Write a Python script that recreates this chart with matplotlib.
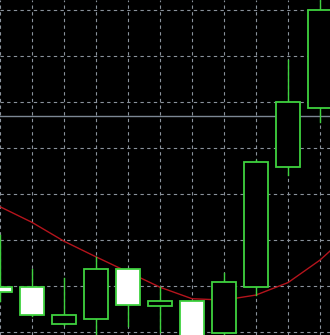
import matplotlib
matplotlib.use("Agg")
import matplotlib.pyplot as plt
from matplotlib.patches import Rectangle

# OHLC per bar (bar index 0..10, left to right)
opens  = [1.08598, 1.08598, 1.08517, 1.08528, 1.08637, 1.08558, 1.08567, 1.08498, 1.08598, 1.08859, 1.08988]
highs  = [1.08712, 1.08638, 1.08619, 1.08664, 1.08639, 1.08599, 1.08569, 1.08628, 1.08875, 1.09093, 1.09255]
lows   = [1.08568, 1.08536, 1.08516, 1.08483, 1.08514, 1.08501, 1.08466, 1.08490, 1.08581, 1.08842, 1.08958]
closes = [1.08588, 1.08537, 1.08537, 1.08637, 1.08559, 1.08567, 1.08472, 1.08609, 1.08870, 1.09000, 1.09200]

# moving average, one bar either side of the visible range
ma_x = [-1, 0, 1, 2, 3, 4, 5, 6, 7, 8, 9, 10, 11]
ma_values = [1.08807, 1.08773, 1.08739, 1.08698, 1.08664, 1.08631, 1.08598,
             1.08573, 1.08570, 1.08581, 1.08608, 1.08657, 1.08720]

level_price = 1.08970
grid_prices = [1.0850, 1.0860, 1.0870, 1.0880, 1.0890, 1.0900, 1.0910, 1.0920]

green = "#3fd23f"
grid_col = "#8a929c"

fig = plt.figure(figsize=(3.3, 3.35), dpi=100, facecolor="black")
ax = fig.add_axes([0, 0, 1, 1])
ax.set_facecolor("black")
ax.set_xlim(0, 330 / 32)
ax.set_ylim(1.084941, 1.092224)
ax.axis("off")

# dashed grid
for p in grid_prices:
    ax.axhline(p, color=grid_col, lw=0.8, dashes=(3, 3), zorder=1)
for i in range(11):
    ax.axvline(i, color=grid_col, lw=0.8, dashes=(3, 3), zorder=1)

ax.axhline(level_price, color="#7c8794", lw=1.0, zorder=2)

ax.plot(ma_x, ma_values, color="#b4141c", lw=1.0, zorder=3)

body_w = 0.72
for i, (o, h, l, c) in enumerate(zip(opens, highs, lows, closes)):
    top, bot = max(o, c), min(o, c)
    ax.plot([i, i], [top, h], color=green, lw=1.0, zorder=4)
    ax.plot([i, i], [l, bot], color=green, lw=1.0, zorder=4)
    face = "white" if c < o else "black"
    ax.add_patch(Rectangle((i - body_w / 2, bot), body_w, top - bot,
                           facecolor=face, edgecolor=green, lw=1.3, zorder=5))

fig.savefig("out.png", dpi=100, facecolor="black")
